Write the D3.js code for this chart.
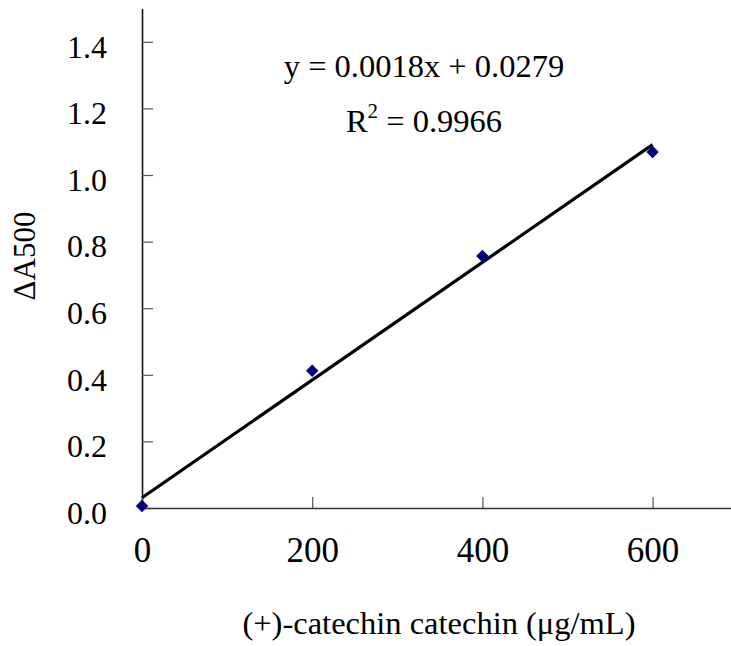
<!DOCTYPE html>
<html>
<head>
<meta charset="utf-8">
<script src="https://cdn.jsdelivr.net/npm/d3@7"></script>
<style>
  body { margin: 0; background: #fff; }
  svg text { font-family: "Liberation Serif", "Times New Roman", serif; fill: #000; }
</style>
</head>
<body>
<div id="chart"></div>
<script>
// concentration (ug/mL) and absorbance change
const conc = [0, 200, 400, 600];
const absorb = [0.006, 0.412, 0.757, 1.069];
const xTicks = [0, 200, 400, 600];
const yTicks = [0, 0.2, 0.4, 0.6, 0.8, 1.0, 1.2, 1.4];
const eqText = "y = 0.0018x + 0.0279";
const r2Value = "0.9966";

const width = 731, height = 646;

const svg = d3.select("#chart").append("svg")
  .attr("width", width)
  .attr("height", height);

const x = d3.scaleLinear().domain([0, 700]).range([142, 737.7]);
const y = d3.scaleLinear().domain([0, 1.5]).range([508, 8.5]);

// y axis, ticks pointing inward
const yAxis = svg.append("g")
  .attr("transform", "translate(" + x(0) + ",0)")
  .call(d3.axisLeft(y).tickValues(yTicks).tickFormat(d3.format(".1f"))
    .tickSizeInner(-11).tickSizeOuter(0).tickPadding(35));
yAxis.select(".domain").attr("stroke", "#111").attr("stroke-width", 1.6);
yAxis.selectAll(".tick line").attr("stroke", "#555").attr("stroke-width", 1.2);
yAxis.selectAll(".tick text").style("font-size", "32px").attr("dy", "0.48em");

// x axis
const xAxis = svg.append("g")
  .attr("transform", "translate(0," + y(0) + ")")
  .call(d3.axisBottom(x).tickValues(xTicks).tickFormat(d3.format("d"))
    .tickSizeInner(-11).tickSizeOuter(0).tickPadding(29));
xAxis.select(".domain").attr("stroke", "#333").attr("stroke-width", 1.6);
xAxis.selectAll(".tick line").attr("stroke", "#555").attr("stroke-width", 1.2);
xAxis.selectAll(".tick text").style("font-size", "35px");

// least squares trend line
const mx = d3.mean(conc), my = d3.mean(absorb);
let sxy = 0, sxx = 0;
conc.forEach((c, i) => { sxy += (c - mx) * (absorb[i] - my); sxx += (c - mx) * (c - mx); });
const slope = sxy / sxx;
const icpt = my - slope * mx;
const xExt = d3.extent(conc);

svg.append("line")
  .attr("x1", x(xExt[0])).attr("y1", y(icpt + slope * xExt[0]))
  .attr("x2", x(xExt[1])).attr("y2", y(icpt + slope * xExt[1]))
  .attr("stroke", "#000")
  .attr("stroke-width", 3.2);

// data points (diamonds)
const diamond = d3.symbol().type(d3.symbolSquare).size(78);
svg.selectAll(".pt")
  .data(conc.map((c, i) => ({ c: c, a: absorb[i] })))
  .enter()
  .append("path")
  .attr("class", "pt")
  .attr("d", diamond)
  .attr("transform", d => "translate(" + x(d.c) + "," + y(d.a) + ") rotate(45)")
  .attr("fill", "#000080");

// equation
svg.append("text")
  .attr("x", 424).attr("y", 77)
  .attr("text-anchor", "middle")
  .style("font-size", "32.5px")
  .text(eqText);

const r2 = svg.append("text")
  .attr("x", 424).attr("y", 132)
  .attr("text-anchor", "middle")
  .style("font-size", "32.5px");
r2.append("tspan").text("R");
r2.append("tspan").attr("dy", -14).style("font-size", "21px").text("2");
r2.append("tspan").attr("dy", 14).text(" = " + r2Value);

// axis titles
svg.append("text")
  .attr("transform", "translate(35,256) rotate(-90)")
  .attr("text-anchor", "middle")
  .style("font-size", "31px")
  .text("\u0394A500");

svg.append("text")
  .attr("x", 439).attr("y", 634)
  .attr("text-anchor", "middle")
  .style("font-size", "32.5px")
  .text("(+)-catechin catechin (\u03bcg/mL)");
</script>
</body>
</html>
